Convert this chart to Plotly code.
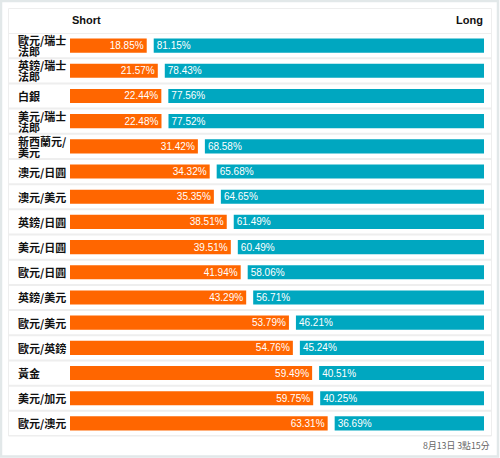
import plotly.graph_objects as go

labels = ["歐元/瑞士\n法郎", "英鎊/瑞士\n法郎", "白銀", "美元/瑞士\n法郎", "新西蘭元/\n美元",
          "澳元/日圓", "澳元/美元", "英鎊/日圓", "美元/日圓", "歐元/日圓", "英鎊/美元",
          "歐元/美元", "歐元/英鎊", "黃金", "美元/加元", "歐元/澳元"]
short_pct = [18.85, 21.57, 22.44, 22.48, 31.42, 34.32, 35.35, 38.51, 39.51, 41.94, 43.29,
             53.79, 54.76, 59.49, 59.75, 63.31]
long_pct = [81.15, 78.43, 77.56, 77.52, 68.58, 65.68, 64.65, 61.49, 60.49, 58.06, 56.71,
            46.21, 45.24, 40.51, 40.25, 36.69]
header_short = "Short"
header_long = "Long"
footer = "8月13日 3點15分"

W, H = 500, 458
ML, MR, MT, MB = 70, 16, 33, 22
PW, PH = W - ML - MR, H - MT - MB
GAP = 7 / (PW / 101.72)  # visual gap between the two bars, in axis units

ORANGE = "#ff6600"
TEAL = "#00a7c0"
LINE = "#eeeeee"

n = len(labels)
ypos = list(range(n))

def px2x(px):
    return (px - ML) / PW

def py2y(py):
    return (H - MB - py) / PH

fig = go.Figure()
fig.add_trace(go.Bar(
    y=ypos, x=short_pct, orientation="h", base=0,
    marker=dict(color=ORANGE, line=dict(width=0)),
    text=[f"{v:.2f}%" for v in short_pct], textposition="inside",
    insidetextanchor="end", textangle=0, constraintext="none",
    textfont=dict(color="white", size=10, family="Liberation Sans, Arial"),
    width=0.56, name=header_short, hoverinfo="skip"))
fig.add_trace(go.Bar(
    y=ypos, x=long_pct, orientation="h", base=[s + GAP for s in short_pct],
    marker=dict(color=TEAL, line=dict(width=0)),
    text=[f"{v:.2f}%" for v in long_pct], textposition="inside",
    insidetextanchor="start", textangle=0, constraintext="none",
    textfont=dict(color="white", size=10, family="Liberation Sans, Arial"),
    width=0.56, name=header_long, hoverinfo="skip"))

shapes = []
# outer card border
shapes.append(dict(type="rect", xref="paper", yref="paper",
                   x0=px2x(1), x1=px2x(W - 2), y0=py2y(H - 1.5), y1=py2y(1),
                   line=dict(color="#e2e8e9", width=2.5), fillcolor="rgba(0,0,0,0)", layer="below"))
# table border
shapes.append(dict(type="rect", xref="paper", yref="paper",
                   x0=px2x(8.5), x1=px2x(491.5), y0=py2y(436), y1=py2y(8.5),
                   line=dict(color=LINE, width=1), fillcolor="rgba(0,0,0,0)", layer="below"))
# row separators
for i in range(n + 1):
    yy = i - 0.5
    shapes.append(dict(type="line", xref="paper", yref="y",
                       x0=px2x(9), x1=px2x(491), y0=yy, y1=yy,
                       line=dict(color=LINE, width=2), layer="below"))

annotations = []
for i, lab in enumerate(labels):
    lines = lab.split("\n")
    k = len(lines)
    for j, ln in enumerate(lines):
        shift = (-(j - (k - 1) / 2)) * 11
        annotations.append(dict(
            xref="paper", yref="y", x=px2x(16), y=i, yshift=shift,
            text=ln, showarrow=False, xanchor="left", yanchor="middle",
            font=dict(size=11, color="#111111", family="Noto Sans CJK TC", weight=600)))

annotations.append(dict(xref="paper", yref="paper", x=px2x(70), y=py2y(20),
                        text=f"<b>{header_short}</b>", showarrow=False,
                        xanchor="left", yanchor="middle",
                        font=dict(size=11, color="#111111", family="Liberation Sans, Arial")))
annotations.append(dict(xref="paper", yref="paper", x=px2x(485), y=py2y(20),
                        text=f"<b>{header_long}</b>", showarrow=False,
                        xanchor="right", yanchor="middle",
                        font=dict(size=11, color="#111111", family="Liberation Sans, Arial")))
annotations.append(dict(xref="paper", yref="paper", x=px2x(492), y=py2y(445),
                        text=footer, showarrow=False, xanchor="right", yanchor="middle",
                        font=dict(size=8.8, color="#666666", family="Noto Sans CJK TC")))

fig.update_layout(
    width=W, height=H,
    margin=dict(l=ML, r=MR, t=MT, b=MB, pad=0),
    paper_bgcolor="white", plot_bgcolor="white",
    barmode="overlay", showlegend=False,
    xaxis=dict(range=[0, 100 + GAP], visible=False, fixedrange=True),
    yaxis=dict(range=[n - 0.5, -0.5], visible=False, fixedrange=True),
    shapes=shapes, annotations=annotations,
)

fig.write_html("out.html", config={"displayModeBar": False},
               post_script="document.body.style.margin='0';document.body.style.overflow='hidden';")
